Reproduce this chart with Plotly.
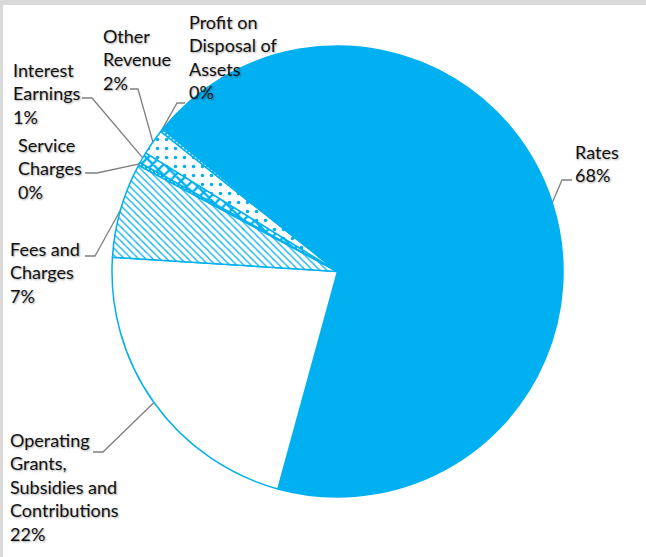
import math
import plotly.graph_objects as go

# ---- data ----
categories = ["Rates", "Operating Grants, Subsidies and Contributions", "Fees and Charges",
              "Service Charges", "Interest Earnings", "Other Revenue", "Profit on Disposal of Assets"]
label_text = ["Rates<br>68%", "Operating<br>Grants,<br>Subsidies and<br>Contributions<br>22%",
              "Fees and<br>Charges<br>7%", "Service<br>Charges<br>0%", "Interest<br>Earnings<br>1%",
              "Other<br>Revenue<br>2%", "Profit on<br>Disposal of<br>Assets<br>0%"]
shares = [68.4, 21.75, 6.8, 0.2, 0.8, 1.85, 0.2]

# ---- layout / style ----
W, H = 646, 557
CX, CY, R = 337.5, 271.5, 225.5
ROT = 309.1
BLUE = "#00B0F0"
fills = [BLUE, "white", "white", "white", "white", "white", "white"]
patterns = ["", "", "\\", "|", "x", ".", "/"]
pat_size = [8, 8, 5, 4, 8, 9, 4]
pat_sol = [0.3, 0.3, 0.25, 0.5, 0.5, 0.12, 0.5]

# label top-left positions (px) and leader elbow (start, elbow)
label_pos = [(573, 139), (8, 427), (8, 236), (16, 132), (11, 57), (101, 23), (187, 9)]
elbows = [((572, 180), (562, 180)), ((93, 452), (103, 452)), ((85, 256), (95, 256)),
          ((85, 173), (97, 173)), ((82, 98), (92, 98)), ((130, 89), (138, 89)),
          ((185, 103), (177, 103))]

fig = go.Figure()

# leader lines, anchored on slice mid-angles
total = sum(shares)
ang = ROT
for i, v in enumerate(shares):
    mid = math.radians(ang + 360 * v / total / 2)
    ang += 360 * v / total
    ax_ = CX + R * math.sin(mid)
    ay_ = CY - R * math.cos(mid)
    (x0, y0), (x1, y1) = elbows[i]
    fig.add_trace(go.Scatter(x=[x0, x1, ax_], y=[y0, y1, ay_], mode="lines",
                             line=dict(color="#7f7f7f", width=1.3),
                             hoverinfo="skip", showlegend=False))

fig.add_trace(go.Pie(
    labels=categories, values=shares, sort=False, direction="clockwise", rotation=ROT,
    textinfo="none", hoverinfo="label+percent",
    marker=dict(colors=fills, line=dict(color=BLUE, width=1.5),
                pattern=dict(shape=patterns, fgcolor=BLUE, size=pat_size,
                             solidity=pat_sol, fillmode="replace")),
    domain=dict(x=[(CX - R) / W, (CX + R) / W], y=[(H - CY - R) / H, (H - CY + R) / H]),
    showlegend=False,
))

for (x, y), t in zip(label_pos, label_text):
    fig.add_annotation(x=x, y=y, xref="x", yref="y", text=t, showarrow=False,
                       xanchor="left", yanchor="top", align="left",
                       font=dict(family="Lato", size=18, color="#111111",
                                 shadow="1px 1px 2px rgba(0,0,0,0.35)"))

fig.update_layout(
    width=W, height=H, margin=dict(l=0, r=0, t=0, b=0),
    paper_bgcolor="white", plot_bgcolor="rgba(0,0,0,0)",
    xaxis=dict(range=[0, W], visible=False, fixedrange=True),
    yaxis=dict(range=[H, 0], visible=False, fixedrange=True),
    shapes=[
        dict(type="rect", xref="paper", yref="paper", x0=0, x1=3 / W, y0=0, y1=1,
             fillcolor="#d9d9d9", line=dict(width=0), layer="below"),
        dict(type="rect", xref="paper", yref="paper", x0=0, x1=1, y0=1 - 5 / H, y1=1,
             fillcolor="#d9d9d9", line=dict(width=0), layer="below"),
    ],
)

fig.write_html("out.html")
